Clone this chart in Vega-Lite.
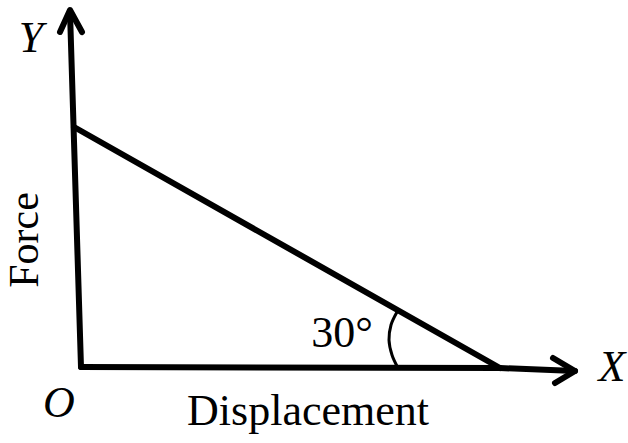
{
  "$schema": "https://vega.github.io/schema/vega-lite/v6.json",
  "width": 628,
  "height": 443,
  "autosize": {"type": "fit", "contains": "padding"},
  "padding": 0,
  "background": "white",
  "config": {"view": {"stroke": null}},
  "datasets": {
    "axes": [
      {"seg": "yaxis", "o": 1, "x": 0, "y": 0},
      {"seg": "yaxis", "o": 2, "x": -11, "y": 355},
      {"seg": "yarrow", "o": 1, "x": -21, "y": 335},
      {"seg": "yarrow", "o": 2, "x": -11, "y": 357},
      {"seg": "yarrow", "o": 3, "x": 1, "y": 335},
      {"seg": "xaxis", "o": 1, "x": 0, "y": 0},
      {"seg": "xaxis", "o": 2, "x": 419, "y": -1},
      {"seg": "xaxis", "o": 3, "x": 494, "y": -4},
      {"seg": "xarrow", "o": 1, "x": 472, "y": 9},
      {"seg": "xarrow", "o": 2, "x": 494, "y": -4},
      {"seg": "xarrow", "o": 3, "x": 474, "y": -16},
      {"seg": "force", "o": 1, "x": -7, "y": 240},
      {"seg": "force", "o": 2, "x": 419, "y": -1}
    ],
    "arc": [
      {"o": 1, "x": 316, "y": 55},
      {"o": 2, "x": 310, "y": 42},
      {"o": 3, "x": 308, "y": 27},
      {"o": 4, "x": 311, "y": 12},
      {"o": 5, "x": 317, "y": -1}
    ],
    "letters": [
      {"label": "Y", "x": -50, "y": 328},
      {"label": "X", "x": 531, "y": -1},
      {"label": "O", "x": -22, "y": -37}
    ],
    "words": [
      {"label": "Displacement", "x": 227, "y": -58},
      {"label": "30°", "x": 261, "y": 20}
    ],
    "ylabel": [
      {"label": "Force", "x": -56, "y": 127}
    ]
  },
  "layer": [
    {
      "data": {"name": "axes"},
      "mark": {"type": "line", "color": "black", "strokeWidth": 6, "strokeCap": "round", "strokeJoin": "round"},
      "encoding": {
        "x": {"field": "x", "type": "quantitative", "scale": {"domain": [-81, 547], "nice": false, "zero": false}, "axis": null},
        "y": {"field": "y", "type": "quantitative", "scale": {"domain": [-76, 367], "nice": false, "zero": false}, "axis": null},
        "detail": {"field": "seg"},
        "order": {"field": "o"}
      }
    },
    {
      "data": {"name": "arc"},
      "mark": {"type": "line", "color": "black", "strokeWidth": 3, "interpolate": "cardinal"},
      "encoding": {
        "x": {"field": "x", "type": "quantitative", "scale": {"domain": [-81, 547], "nice": false, "zero": false}, "axis": null},
        "y": {"field": "y", "type": "quantitative", "scale": {"domain": [-76, 367], "nice": false, "zero": false}, "axis": null},
        "order": {"field": "o"}
      }
    },
    {
      "data": {"name": "letters"},
      "mark": {"type": "text", "font": "Liberation Serif", "fontStyle": "italic", "fontSize": 44, "align": "center", "baseline": "middle", "color": "black"},
      "encoding": {
        "x": {"field": "x", "type": "quantitative", "scale": {"domain": [-81, 547], "nice": false, "zero": false}, "axis": null},
        "y": {"field": "y", "type": "quantitative", "scale": {"domain": [-76, 367], "nice": false, "zero": false}, "axis": null},
        "text": {"field": "label"}
      }
    },
    {
      "data": {"name": "words"},
      "mark": {"type": "text", "font": "Liberation Serif", "fontSize": 44, "align": "center", "baseline": "alphabetic", "color": "black"},
      "encoding": {
        "x": {"field": "x", "type": "quantitative", "scale": {"domain": [-81, 547], "nice": false, "zero": false}, "axis": null},
        "y": {"field": "y", "type": "quantitative", "scale": {"domain": [-76, 367], "nice": false, "zero": false}, "axis": null},
        "text": {"field": "label"}
      }
    },
    {
      "data": {"name": "ylabel"},
      "mark": {"type": "text", "font": "Liberation Serif", "fontSize": 42, "align": "center", "baseline": "middle", "angle": 270, "color": "black"},
      "encoding": {
        "x": {"field": "x", "type": "quantitative", "scale": {"domain": [-81, 547], "nice": false, "zero": false}, "axis": null},
        "y": {"field": "y", "type": "quantitative", "scale": {"domain": [-76, 367], "nice": false, "zero": false}, "axis": null},
        "text": {"field": "label"}
      }
    }
  ]
}
